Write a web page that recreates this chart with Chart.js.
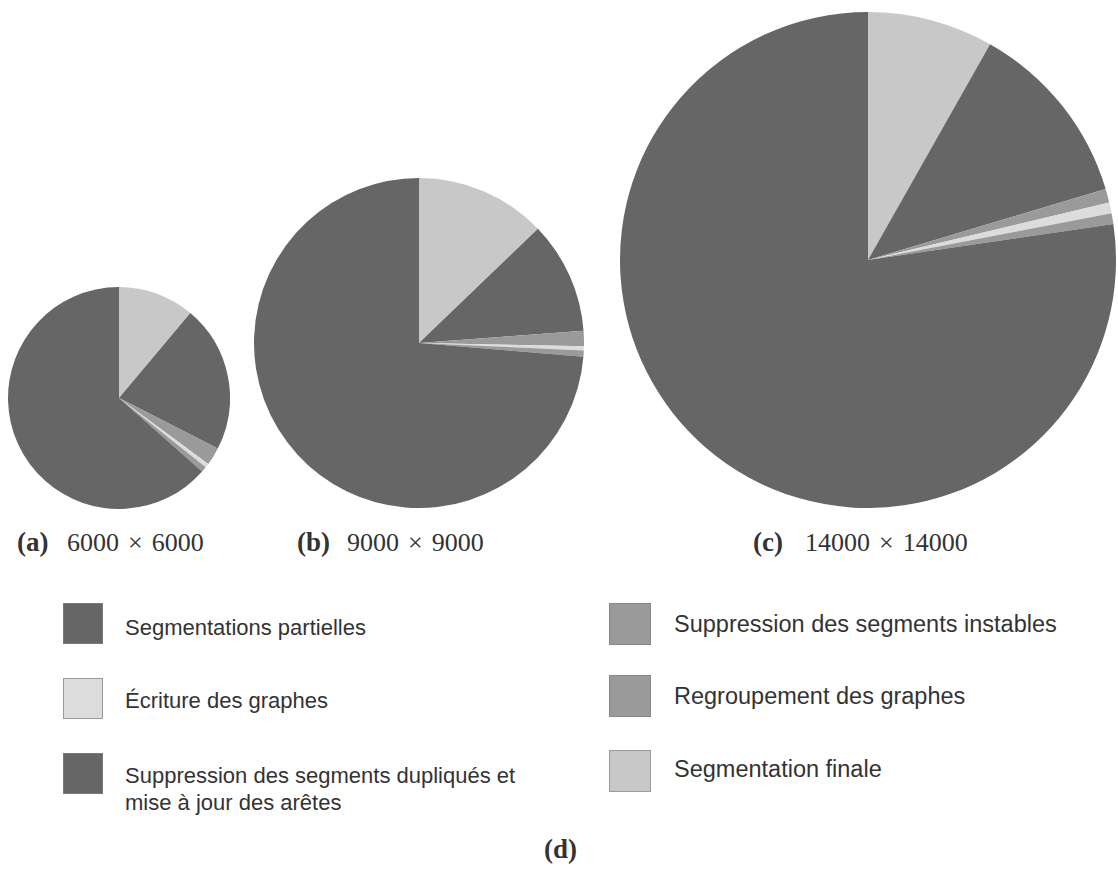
<!DOCTYPE html>
<html><head><meta charset="utf-8">
<script src="https://cdn.jsdelivr.net/npm/chart.js@4.4.1/dist/chart.umd.min.js"></script>
<style>
html,body{margin:0;padding:0;background:#fff;}
body{width:1118px;height:870px;overflow:hidden;position:relative;}
canvas.pie{position:absolute;}
.cap{position:absolute;font-family:"Liberation Serif","DejaVu Serif",serif;font-size:26px;line-height:26px;color:#333;white-space:nowrap;}
.cap.b{font-weight:bold;font-size:27px;}
.lg{position:absolute;font-family:"Liberation Sans",Arial,sans-serif;font-size:22px;line-height:27px;color:#333;width:415px;}
.lg.c2{font-size:23.5px;}
.sw{position:absolute;box-sizing:border-box;border:1px solid #888;}
</style></head><body>
<script>
// ---- data ----
const categories = [
  "Segmentations partielles",
  "Écriture des graphes",
  "Suppression des segments dupliqués et mise à jour des arêtes",
  "Suppression des segments instables",
  "Regroupement des graphes",
  "Segmentation finale"
];
// shares (%) in legend order
const shares6000  = [63.4, 0.6, 21.4, 2.6, 0.8, 11.1];
const shares9000  = [73.6, 0.4, 11.0, 1.5, 0.6, 12.8];
const shares14000 = [77.4, 0.7, 12.2, 0.9, 0.7, 8.2];
const panelLetters = ["(a)", "(b)", "(c)"];
const sizeLabels = ["6000 × 6000", "9000 × 9000", "14000 × 14000"];
const summaryLetter = "(d)";
// clockwise drawing order from 12 o'clock (indices into categories)
const pieOrder = [5, 2, 3, 1, 4, 0];

// ---- styles ----
const fills   = ["#666666", "#dcdcdc", "#666666", "#9a9a9a", "#9a9a9a", "#c8c8c8"];
const borders = ["#7a7a7a", "#9a9a9a", "#7a7a7a", "#888888", "#888888", "#9a9a9a"];

const pies = [
  {shares: shares6000,  left: 8,   top: 287, size: 222},
  {shares: shares9000,  left: 254, top: 178, size: 330},
  {shares: shares14000, left: 620, top: 12,  size: 496}
];

pies.forEach((p) => {
  const c = document.createElement('canvas');
  c.className = 'pie';
  c.width = p.size; c.height = p.size;
  c.style.left = p.left + 'px'; c.style.top = p.top + 'px';
  c.style.width = p.size + 'px'; c.style.height = p.size + 'px';
  document.body.appendChild(c);
  new Chart(c, {
    type: 'pie',
    data: {
      labels: pieOrder.map(i => categories[i]),
      datasets: [{
        data: pieOrder.map(i => p.shares[i]),
        backgroundColor: pieOrder.map(i => fills[i]),
        borderWidth: 0
      }]
    },
    options: {
      responsive: false,
      devicePixelRatio: 1,
      animation: false,
      layout: {padding: 0},
      plugins: {legend: {display: false}, tooltip: {enabled: false}}
    }
  });
});

// captions
function addCap(text, x, top, bold) {
  const d = document.createElement('div');
  d.className = 'cap' + (bold ? ' b' : '');
  d.style.left = x + 'px'; d.style.top = top + 'px';
  d.innerHTML = text;
  document.body.appendChild(d);
}
const capLetterX = [17, 297, 753];
const capNumX = [67, 347, 805];
function fmtSize(s) {
  const parts = s.split(' × ');
  return parts[0] + '<span style="margin:0 9px">×</span>' + parts[1];
}
panelLetters.forEach((l, k) => {
  addCap(l, capLetterX[k], 529, true);
  addCap(fmtSize(sizeLabels[k]), capNumX[k], 530, false);
});
addCap(summaryLetter, 544, 836, true);

// legend (two columns, column-major)
const colSwX = [63, 609], colTxtX = [125, 674], swSize = [[40, 41], [42, 42]];
const swTops = [[603, 678, 753], [603, 675, 750]];
const baselines = [[635, 708, 783], [633, 705, 778]];
const baseOff = [21, 21.6];
categories.forEach((name, i) => {
  const col = Math.floor(i / 3), row = i % 3;
  const s = document.createElement('div');
  s.className = 'sw';
  s.style.left = colSwX[col] + 'px'; s.style.top = swTops[col][row] + 'px';
  s.style.width = swSize[col][0] + 'px'; s.style.height = swSize[col][1] + 'px';
  s.style.background = fills[i]; s.style.borderColor = borders[i];
  document.body.appendChild(s);
  const t = document.createElement('div');
  t.className = 'lg' + (col === 1 ? ' c2' : '');
  t.style.left = colTxtX[col] + 'px'; t.style.top = (baselines[col][row] - baseOff[col]) + 'px';
  t.textContent = name;
  document.body.appendChild(t);
});
</script>
</body></html>
